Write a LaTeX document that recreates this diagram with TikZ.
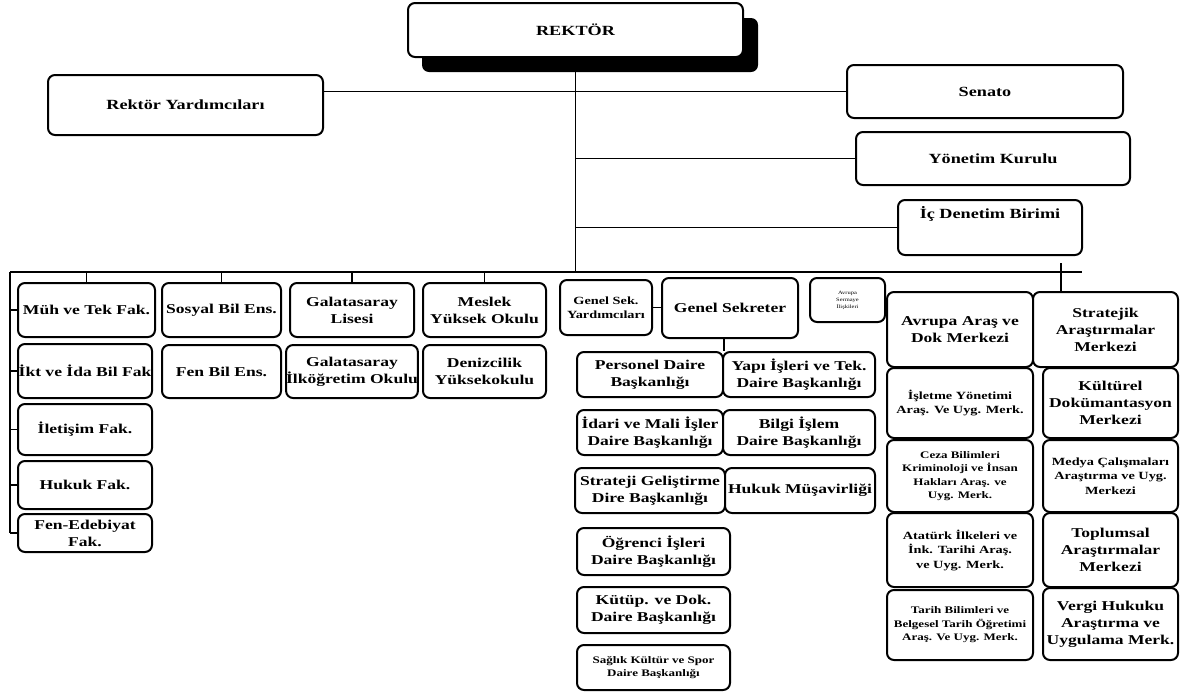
\documentclass[tikz,border=0pt]{standalone}
\usepackage{fontspec}
\newfontfamily\wf[FakeStretch=1.3]{Liberation Serif}
\begin{document}
\begin{tikzpicture}[x=1pt,y=-1pt,
  box/.style={draw,line width=2pt,rounded corners=7pt,fill=white,inner sep=0pt,align=center},
  conn/.style={line width=1.7pt},
  fa/.style={font={\wf\bfseries\fontsize{14}{18}\selectfont}},
  fb/.style={font={\wf\bfseries\fontsize{13.5}{17}\selectfont}},
  fc/.style={font={\wf\bfseries\fontsize{11}{14.5}\selectfont}},
  fd/.style={font={\wf\bfseries\fontsize{10}{13.5}\selectfont}},
  fe/.style={font={\wf\fontsize{5}{7}\selectfont}}]
\newcommand{\bx}[7][]{\node[box,#1,minimum width={(#5-#3)*1pt},minimum height={(#6-#4)*1pt}] (#2) at ({(#3+#5)/2},{(#4+#6)/2}) {#7};}
\useasboundingbox (0,0) rectangle (1180,697);
% Rektor with shadow
\fill[rounded corners=7pt] (422,18) rectangle (758,72);
\bx[fa]{rektor}{408}{3}{743}{57}{REKTÖR}
\bx[fa]{ryard}{48}{75}{323}{135}{Rektör Yardımcıları}
\bx[fa]{senato}{847}{65}{1123}{118}{Senato}
\bx[fa]{yonetim}{856}{132}{1130}{185}{Yönetim Kurulu}
\bx[fa]{icden}{898}{200}{1082}{255}{İç Denetim Birimi\\[12pt]\mbox{}}
\coordinate (busL) at (10,272);
\coordinate (busR) at (1082,272);
\coordinate (tick) at (1061,263);
% left faculties
\bx[fb]{muh}{18}{283}{155}{337}{Müh ve Tek Fak.}
\bx[fb]{ikt}{18}{344}{152}{398}{İkt ve İda Bil Fak}
\bx[fb]{ilet}{18}{404}{152}{455}{İletişim Fak.}
\bx[fb]{huk}{18}{461}{152}{509}{Hukuk Fak.}
\bx[fb]{fen}{18}{514}{152}{552}{Fen-Edebiyat\\Fak.}
\bx[fb]{sosyal}{162}{283}{281}{337}{Sosyal Bil Ens.}
\bx[fb]{fenbil}{162}{345}{281}{398}{Fen Bil Ens.}
\bx[fb]{gsl}{290}{283}{414}{337}{Galatasaray\\Lisesi}
\bx[fb]{gsi}{290}{345}{414}{398}{Galatasaray\\İlköğretim Okulu}
\bx[fb]{myo}{423}{283}{546}{337}{Meslek\\Yüksek Okulu}
\bx[fb]{deniz}{423}{345}{546}{398}{Denizcilik\\Yüksekokulu}
% middle
\bx[fc]{gsy}{560}{280}{652}{335}{Genel Sek.\\Yardımcıları}
\bx[fb]{gs}{662}{278}{798}{338}{Genel Sekreter}
\bx[fe]{tiny}{810}{278}{885}{322}{Avrupa\\Sermaye\\İlişkileri}
\bx[fb]{pers}{577}{352}{723}{397}{Personel Daire\\Başkanlığı}
\bx[fb]{yapi}{723}{352}{875}{397}{Yapı İşleri ve Tek.\\Daire Başkanlığı}
\bx[fb]{idari}{577}{410}{723}{455}{İdari ve Mali İşler\\Daire Başkanlığı}
\bx[fb]{bilgi}{723}{410}{875}{455}{Bilgi İşlem\\Daire Başkanlığı}
\bx[fb]{strat}{575}{468}{725}{513}{Strateji Geliştirme\\Dire Başkanlığı}
\bx[fb]{hmus}{725}{468}{875}{513}{Hukuk Müşavirliği}
\bx[fb]{ogr}{577}{528}{730}{575}{Öğrenci İşleri\\Daire Başkanlığı}
\bx[fb]{kutup}{577}{587}{730}{633}{Kütüp. ve Dok.\\Daire Başkanlığı}
\bx[fd]{saglik}{577}{645}{730}{690}{Sağlık Kültür ve Spor\\Daire Başkanlığı}
% right centres
\bx[fb]{avrupa}{887}{292}{1033}{367}{Avrupa Araş ve\\Dok Merkezi}
\bx[fb]{stratejik}{1033}{292}{1178}{367}{Stratejik\\Araştırmalar\\Merkezi}
\bx[fc]{isletme}{887}{368}{1033}{438}{İşletme Yönetimi\\Araş. Ve Uyg. Merk.}
\bx[fb]{kultur}{1043}{368}{1178}{438}{Kültürel\\Dokümantasyon\\Merkezi}
\bx[fd]{ceza}{887}{440}{1033}{512}{Ceza Bilimleri\\Kriminoloji ve İnsan\\Hakları Araş. ve\\Uyg. Merk.}
\bx[fc]{medya}{1043}{440}{1178}{512}{Medya Çalışmaları\\Araştırma ve Uyg.\\Merkezi}
\bx[fc]{ataturk}{887}{513}{1033}{587}{Atatürk İlkeleri ve\\İnk. Tarihi Araş.\\ve Uyg. Merk.}
\bx[fb]{toplum}{1043}{513}{1178}{587}{Toplumsal\\Araştırmalar\\Merkezi}
\bx[fd]{tarih}{887}{590}{1033}{660}{Tarih Bilimleri ve\\Belgesel Tarih Öğretimi\\Araş. Ve Uyg. Merk.}
\bx[fb]{vergi}{1043}{588}{1178}{660}{Vergi Hukuku\\Araştırma ve\\Uygulama Merk.}
% connectors
\begin{scope}[conn]
\draw (rektor.south) -- (rektor.south |- busL);
\draw (senato.west) -- (senato.west -| ryard.east);
\draw (yonetim.west) -- (yonetim.west -| rektor.south);
\draw (icden.west) -- (icden.west -| rektor.south);
\draw (busL) -- (busR);
\draw (busL) -- (busL |- fen.west);
\foreach \n in {muh,ikt,ilet,huk,fen} \draw (\n.west) -- (\n.west -| busL);
\foreach \n in {muh,sosyal,gsl,myo} \draw (\n.north) -- (\n.north |- busL);
\draw (gsy.east) -- (gsy.east -| gs.west);
\draw (pers.north east) -- (pers.north east |- gs.south);
\draw (tick) -- (tick |- stratejik.north);
\end{scope}
\end{tikzpicture}
\end{document}
